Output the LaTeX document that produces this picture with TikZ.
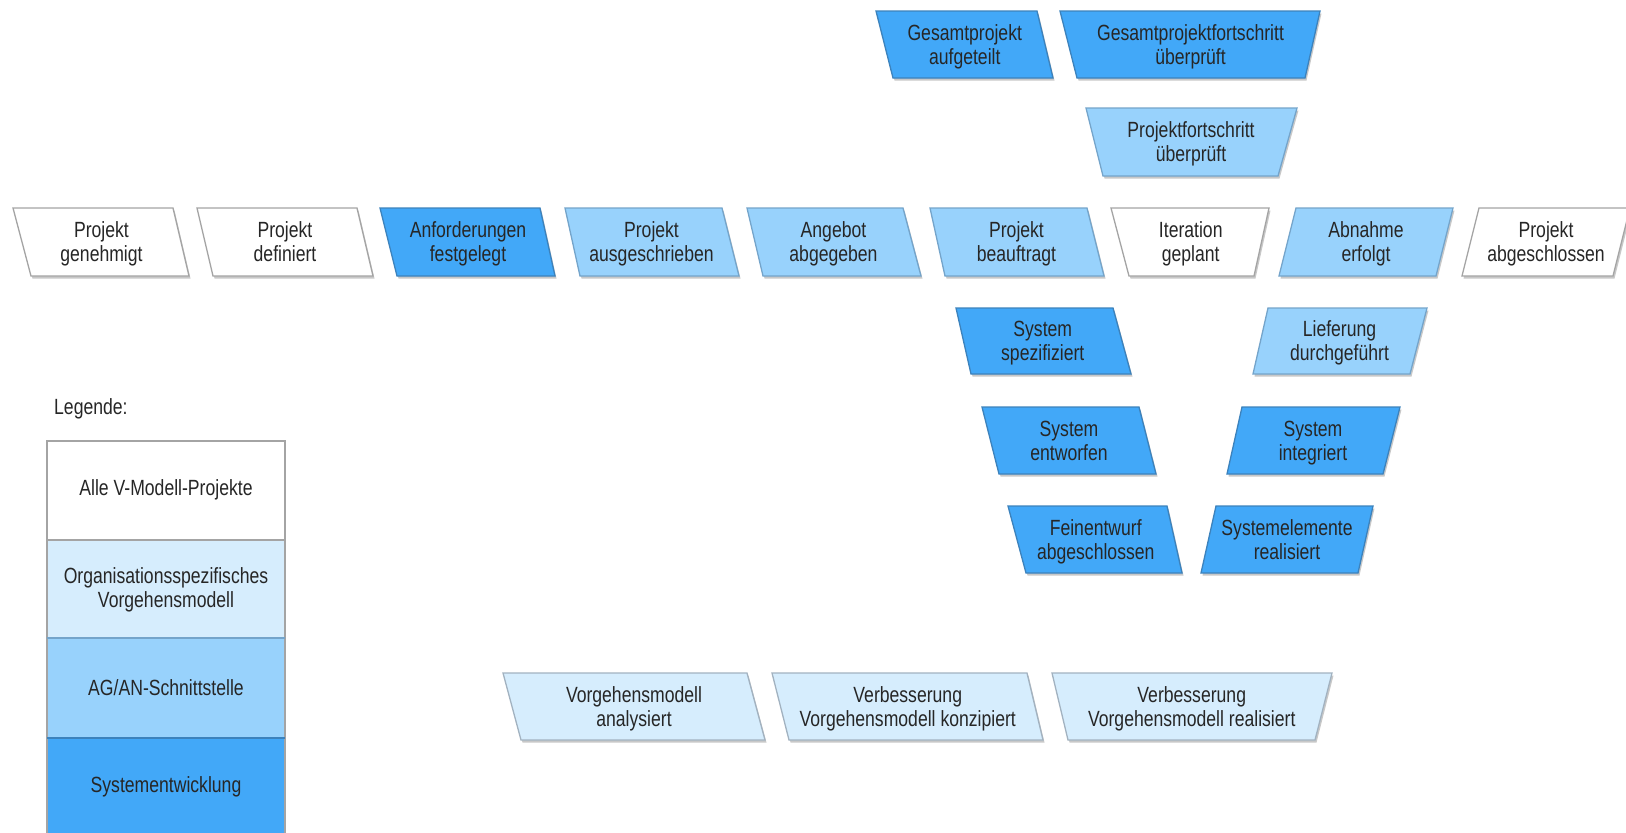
\documentclass[tikz,border=0pt]{standalone}
\usepackage{fontspec}
\setmainfont[FakeStretch=0.8]{Liberation Sans}
\definecolor{dkf}{HTML}{42A8F8}
\definecolor{dkd}{HTML}{3C82BC}
\definecolor{mdf}{HTML}{98D2FC}
\definecolor{mdd}{HTML}{74A4CA}
\definecolor{ltf}{HTML}{D6EDFD}
\definecolor{ltd}{HTML}{A2B2C0}
\definecolor{whd}{HTML}{A4A4A4}
\definecolor{shadowc}{HTML}{C8C8C8}
\definecolor{txtc}{HTML}{262626}
\tikzset{
  evdark/.style={fill=dkf,draw=dkd},
  evmid/.style={fill=mdf,draw=mdd},
  evlight/.style={fill=ltf,draw=ltd},
  evwhite/.style={fill=white,draw=whd},
  evtxt/.style={align=center,text=txtc,font=\fontsize{22}{24}\selectfont,inner sep=0pt},
  legbox/.style={draw=whd,line width=1.3pt},
}
% name, style, top-left x, top-right x, bottom-left x, bottom-right x, top y, bottom y, text
\newcommand\evshape[9]{%
  \fill[shadowc,shift={(1.5,2.5)}] (#3,#7) -- (#4,#7) -- (#6,#8) -- (#5,#8) -- cycle;
  \draw[#2,line width=1.3pt] (#3,#7) -- (#4,#7) -- (#6,#8) -- (#5,#8) -- cycle;
  \node[evtxt] (#1) at ({(#3+#4+#5+#6)/4},{(#7+#8)/2+1}) {\vphantom{Äg}#9\vphantom{g}};}
\begin{document}
\begin{tikzpicture}[x=1pt,y=-1pt]
\useasboundingbox (0,0) rectangle (1626,833);
\clip (0,0) rectangle (1626,833);
% top
\evshape{ga}{evdark}{876}{1037}{893}{1053}{11}{78}{Gesamtprojekt\\aufgeteilt}
\evshape{gf}{evdark}{1060}{1320}{1077}{1305}{11}{78}{Gesamtprojektfortschritt\\überprüft}
\evshape{pf}{evmid}{1086}{1297}{1103}{1278}{108}{176}{Projektfortschritt\\überprüft}
% main row
\evshape{pg}{evwhite}{13}{173}{31}{189}{208}{276}{Projekt\\genehmigt}
\evshape{pd}{evwhite}{197}{357}{213}{373}{208}{276}{Projekt\\definiert}
\evshape{af}{evdark}{380}{540}{397}{555}{208}{276}{Anforderungen\\festgelegt}
\evshape{pa}{evmid}{565}{722}{580}{739}{208}{276}{Projekt\\ausgeschrieben}
\evshape{aa}{evmid}{747}{903}{763}{921}{208}{276}{Angebot\\abgegeben}
\evshape{pb}{evmid}{930}{1087}{945}{1104}{208}{276}{Projekt\\beauftragt}
\evshape{ig}{evwhite}{1111}{1269}{1129}{1254}{208}{276}{Iteration\\geplant}
\evshape{ae}{evmid}{1296}{1453}{1279}{1436}{208}{276}{Abnahme\\erfolgt}
\evshape{pab}{evwhite}{1479}{1630}{1462}{1613}{208}{276}{Projekt\\abgeschlossen}
% V
\evshape{ss}{evdark}{956}{1113}{971}{1131}{308}{374}{System\\spezifiziert}
\evshape{ld}{evmid}{1268}{1427}{1253}{1410}{308}{374}{Lieferung\\durchgeführt}
\evshape{se}{evdark}{982}{1139}{999}{1156}{407}{474}{System\\entworfen}
\evshape{si}{evdark}{1242}{1400}{1227}{1383}{407}{474}{System\\integriert}
\evshape{fa}{evdark}{1008}{1167}{1026}{1182}{506}{573}{Feinentwurf\\abgeschlossen}
\evshape{sr}{evdark}{1216}{1373}{1201}{1358}{506}{573}{Systemelemente\\realisiert}
% bottom row
\evshape{va}{evlight}{503}{747}{521}{765}{673}{740}{Vorgehensmodell\\analysiert}
\evshape{vk}{evlight}{772}{1027}{789}{1043}{673}{740}{Verbesserung\\Vorgehensmodell konzipiert}
\evshape{vr}{evlight}{1052}{1332}{1068}{1315}{673}{740}{Verbesserung\\Vorgehensmodell realisiert}
% legend
\node[evtxt,anchor=west] (leg) at (54,409) {Legende:};
\filldraw[legbox,fill=white] (47,441) rectangle (285,540);
\filldraw[legbox,fill=ltf] (47,540) rectangle (285,638);
\filldraw[legbox,fill=mdf] (47,638) rectangle (285,738);
\filldraw[legbox,fill=dkf] (47,738) rectangle (285,850);
\draw[mdd,line width=1.3pt] (47,638) -- (285,638);
\draw[dkd,line width=1.3pt] (47,738) -- (285,738);
\node[evtxt] (l1) at (166,490) {Alle V-Modell-Projekte};
\node[evtxt] (l2) at (166,590) {Organisationsspezifisches\\Vorgehensmodell};
\node[evtxt] (l3) at (166,688) {AG/AN-Schnittstelle};
\node[evtxt] (l4) at (166,787) {Systementwicklung};
\end{tikzpicture}
\end{document}
